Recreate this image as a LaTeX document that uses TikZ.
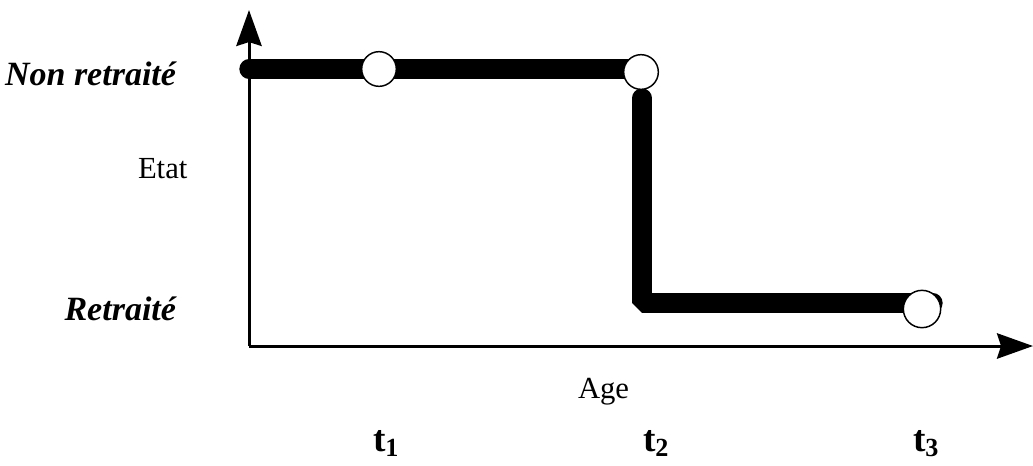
\documentclass[tikz,border=0pt]{standalone}
\usepackage{fontspec}
\setmainfont{Liberation Serif}
\usetikzlibrary{arrows.meta}

\begin{document}
\begin{tikzpicture}[
  x=0.75pt, y=-0.75pt,
  every node/.style={inner sep=0pt, outer sep=0pt, font=\fontsize{23}{26}\selectfont},
  axe/.style={line width=2.25pt, -{Stealth[length=27pt, width=19pt, inset=3pt]}},
  etat/.style={line width=14.5pt, line cap=round, line join=bevel},
  pt/.style={circle, draw, fill=white, line width=1.1pt, minimum size=26pt},
  lab/.style={anchor=base east, font=\fontsize{25.5}{28}\selectfont\bfseries\itshape},
  tlab/.style={anchor=base west, font=\fontsize{28}{32}\selectfont\bfseries}
]
\useasboundingbox (0,0) rectangle (1033,465);

% axes
\coordinate (o) at (249,346);
\coordinate (ytop) at (249,10);
\coordinate (xend) at (1033,346);
\draw[axe] (o) -- (ytop);
\draw[axe] (o) -- (xend);

% trajectoire
\coordinate (s0) at (249,69);
\coordinate (s0e) at (641,69);
\coordinate (v0) at (642,98);
\coordinate (v1) at (642,303);
\coordinate (s1) at (933,303);
\draw[etat] (s0) -- (s0e);
\draw[etat] (v0) -- (v1) -- (s1);
\node[pt] (c1) at (379,69) {};
\node[pt] (c2) at (641,72) {};
\node[pt, minimum width=28pt, minimum height=26pt] (c3) at (922,309) {};

% etiquettes
\node[lab] (nr) at (176,85) {Non retraité};
\node[anchor=base west] (etat) at (138,178) {Etat};
\node[lab] (r) at (176,320) {Retraité};
\node[anchor=base west] (age) at (578,398) {Age};
\node[tlab] (t1) at (373,451) {t\textsubscript{1}};
\node[tlab] (t2) at (643,451) {t\textsubscript{2}};
\node[tlab] (t3) at (913,451) {t\textsubscript{3}};
\end{tikzpicture}
\end{document}
